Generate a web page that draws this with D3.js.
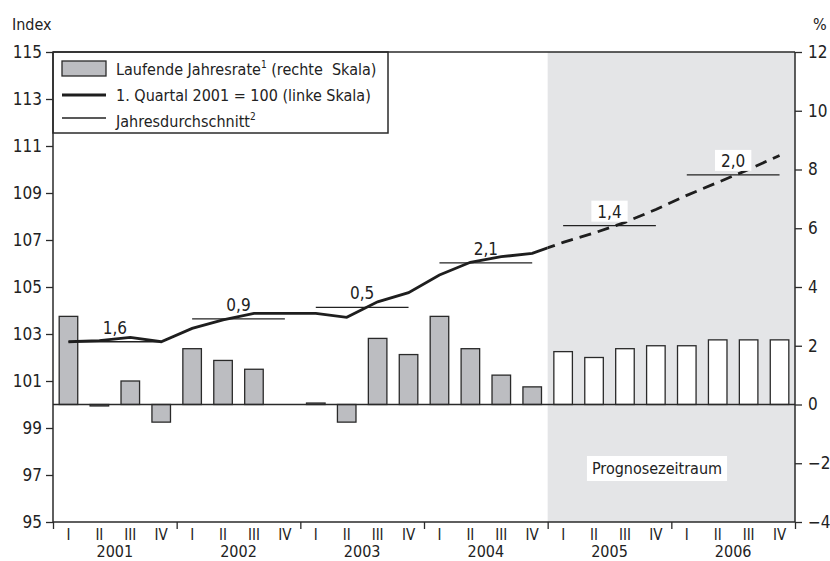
<!DOCTYPE html>
<html>
<head>
<meta charset="utf-8">
<script src="https://cdn.jsdelivr.net/npm/d3@7"></script>
<style>
  body { margin: 0; background: #fff; }
  svg text { font-family: "Liberation Sans Narrow", "DejaVu Sans Condensed", sans-serif; fill: #222; }
</style>
</head>
<body>
<svg id="chart"></svg>
<script>
// quarters 2001 Q1 ... 2006 Q4
let quarterNames = ["I", "II", "III", "IV"]
let years = ["2001", "2002", "2003", "2004", "2005", "2006"]

// Laufende Jahresrate in % (right scale)
let rates = [3.0, -0.05, 0.8, -0.6, 1.9, 1.5, 1.2, 0, 0.05, -0.6, 2.25, 1.7,
             3.0, 1.9, 1.0, 0.6, 1.8, 1.6, 1.9, 2.0, 2.0, 2.2, 2.2, 2.2]

// Index, 1. Quartal 2001 = 100 (left scale)
let indexValues = [102.67, 102.72, 102.86, 102.67, 103.24, 103.6, 103.88, 103.88,
                   103.88, 103.71, 104.37, 104.76, 105.51, 106.05, 106.29, 106.43,
                   106.9, 107.3, 107.75, 108.3, 108.9, 109.45, 110.0, 110.6]

// Jahresdurchschnitt (left scale) and label
let yearAvg = [102.67, 103.64, 104.13, 106.03, 107.61, 109.77]
let yearAvgLabels = ["1,6", "0,9", "0,5", "2,1", "1,4", "2,0"]

let leftTicks = [95, 97, 99, 101, 103, 105, 107, 109, 111, 113, 115]
let rightTicks = [-4, -2, 0, 2, 4, 6, 8, 10, 12]

let forecastStart = 16

let width = 830
let height = 561
let plotLeft = 53
let plotRight = 795
let plotTop = 52
let plotBottom = 522

let svg = d3.select("#chart").attr("width", width).attr("height", height)

let idx = d3.range(rates.length)

let xScale = d3.scaleBand()
    .domain(idx)
    .range([plotLeft, plotRight])
    .paddingInner(0.4)
    .paddingOuter(0.2)

let xYear = d3.scaleLinear().domain([0, rates.length]).range([plotLeft, plotRight])

let yLeft = d3.scaleLinear().domain([95, 115]).range([plotBottom, plotTop])
let yRight = d3.scaleLinear().domain([-4, 12]).range([plotBottom, plotTop])

let cx = (i) => xScale(i) + xScale.bandwidth() / 2
let splitX = xYear(forecastStart)

// forecast shading
svg.append("rect")
    .attr("x", splitX)
    .attr("y", plotTop)
    .attr("width", plotRight - splitX)
    .attr("height", plotBottom - plotTop)
    .attr("fill", "#e4e5e7")

// bars
svg.selectAll(".bar")
    .data(rates)
    .enter()
    .append("rect")
    .attr("class", "bar")
    .attr("x", (d, i) => xScale(i))
    .attr("width", xScale.bandwidth())
    .attr("y", (d) => yRight(Math.max(0, d)))
    .attr("height", (d) => Math.abs(yRight(d) - yRight(0)))
    .attr("fill", (d, i) => i < forecastStart ? "#bcbdc1" : "#ffffff")
    .attr("stroke", "#2a2a2a")
    .attr("stroke-width", 1.3)

// zero line (right scale)
svg.append("line")
    .attr("x1", plotLeft).attr("x2", plotRight)
    .attr("y1", yRight(0)).attr("y2", yRight(0))
    .attr("stroke", "#2a2a2a")
    .attr("stroke-width", 1.5)

// year averages
svg.selectAll(".avg")
    .data(yearAvg)
    .enter()
    .append("line")
    .attr("class", "avg")
    .attr("x1", (d, i) => cx(i * 4))
    .attr("x2", (d, i) => cx(i * 4 + 3))
    .attr("y1", (d) => yLeft(d))
    .attr("y2", (d) => yLeft(d))
    .attr("stroke", "#222")
    .attr("stroke-width", 1.3)

// index line: solid before forecast, dashed after
let defs = svg.append("defs")
defs.append("clipPath").attr("id", "clipPast")
    .append("rect").attr("x", 0).attr("y", 0).attr("width", splitX).attr("height", height)
defs.append("clipPath").attr("id", "clipFuture")
    .append("rect").attr("x", splitX).attr("y", 0).attr("width", width - splitX).attr("height", height)

let line = d3.line()
    .x((d, i) => cx(i))
    .y((d) => yLeft(d))

svg.append("path")
    .datum(indexValues)
    .attr("d", line)
    .attr("fill", "none")
    .attr("stroke", "#1e1e1e")
    .attr("stroke-width", 2.8)
    .attr("clip-path", "url(#clipPast)")

svg.append("path")
    .datum(indexValues)
    .attr("d", line)
    .attr("fill", "none")
    .attr("stroke", "#1e1e1e")
    .attr("stroke-width", 2.8)
    .attr("stroke-dasharray", "12,7")
    .attr("clip-path", "url(#clipFuture)")

// average labels
yearAvgLabels.forEach((lab, i) => {
    let x = (cx(i * 4) + cx(i * 4 + 3)) / 2
    let y = yLeft(yearAvg[i]) - 8
    let g = svg.append("g")
    let t = g.append("text")
        .attr("x", x)
        .attr("y", y)
        .attr("text-anchor", "middle")
        .attr("font-size", 17)
        .text(lab)
    if (i * 4 >= forecastStart) {
        let bb = t.node().getBBox()
        g.insert("rect", "text")
            .attr("x", bb.x - 6)
            .attr("y", bb.y - 1)
            .attr("width", bb.width + 12)
            .attr("height", bb.height + 1)
            .attr("fill", "#fff")
    }
})

// Prognosezeitraum label
let pg = svg.append("g")
let pt = pg.append("text")
    .attr("x", 657)
    .attr("y", 474)
    .attr("text-anchor", "middle")
    .attr("font-size", 16)
    .text("Prognosezeitraum")
let pb = pt.node().getBBox()
pg.insert("rect", "text")
    .attr("x", pb.x - 5)
    .attr("y", pb.y - 3)
    .attr("width", pb.width + 10)
    .attr("height", pb.height + 6)
    .attr("fill", "#fff")

// legend
let legend = svg.append("g")
legend.append("rect")
    .attr("x", plotLeft).attr("y", plotTop)
    .attr("width", 388 - plotLeft).attr("height", 133 - plotTop)
    .attr("fill", "#fff")
    .attr("stroke", "#2a2a2a")
    .attr("stroke-width", 1.5)
legend.append("rect")
    .attr("x", 62).attr("y", 61).attr("width", 44).attr("height", 15)
    .attr("fill", "#bcbdc1").attr("stroke", "#2a2a2a").attr("stroke-width", 1.3)
legend.append("line")
    .attr("x1", 62).attr("x2", 106).attr("y1", 95).attr("y2", 95)
    .attr("stroke", "#1e1e1e").attr("stroke-width", 2.8)
legend.append("line")
    .attr("x1", 62).attr("x2", 106).attr("y1", 118).attr("y2", 118)
    .attr("stroke", "#222").attr("stroke-width", 1.3)

let l1 = legend.append("text").attr("x", 116).attr("y", 75).attr("font-size", 16)
l1.append("tspan").text("Laufende Jahresrate")
l1.append("tspan").attr("dy", -7).attr("font-size", 10).text("1")
l1.append("tspan").attr("dy", 7).text(" (rechte  Skala)").attr("xml:space", "preserve")
legend.append("text").attr("x", 116).attr("y", 101).attr("font-size", 16)
    .text("1. Quartal 2001 = 100 (linke Skala)")
let l3 = legend.append("text").attr("x", 116).attr("y", 127).attr("font-size", 16)
l3.append("tspan").text("Jahresdurchschnitt")
l3.append("tspan").attr("dy", -7).attr("font-size", 10).text("2")

// axes
let yAxisLeft = d3.axisLeft(yLeft).tickValues(leftTicks).tickSize(7).tickPadding(4)
let yAxisRight = d3.axisRight(yRight).tickValues(rightTicks).tickSize(7).tickPadding(6)
let xAxis = d3.axisBottom(xYear).tickValues(d3.range(0, rates.length + 1, 4)).tickSize(7).tickFormat("")

let ga = svg.append("g").attr("transform", "translate(" + plotLeft + ",0)").call(yAxisLeft)
let gb = svg.append("g").attr("transform", "translate(" + plotRight + ",0)").call(yAxisRight)
let gc = svg.append("g").attr("transform", "translate(0," + plotBottom + ")").call(xAxis)

;[ga, gb, gc].forEach((g) => {
    g.select(".domain").attr("stroke", "#2a2a2a").attr("stroke-width", 1.5)
    g.selectAll(".tick line").attr("stroke", "#2a2a2a").attr("stroke-width", 1.3)
    g.selectAll(".tick text").attr("font-size", 17).attr("font-family", null).attr("fill", "#222")
})
ga.select(".domain").attr("d", "M0," + plotTop + "V" + plotBottom)
gb.select(".domain").attr("d", "M0," + plotTop + "V" + plotBottom)
gc.select(".domain").attr("d", "M" + plotLeft + ",0H" + plotRight)

// top frame line
svg.append("line")
    .attr("x1", plotLeft).attr("x2", plotRight)
    .attr("y1", plotTop).attr("y2", plotTop)
    .attr("stroke", "#2a2a2a").attr("stroke-width", 1.5)

// quarter and year labels
svg.selectAll(".qlab")
    .data(idx)
    .enter()
    .append("text")
    .attr("class", "qlab")
    .attr("x", (i) => cx(i))
    .attr("y", 540)
    .attr("text-anchor", "middle")
    .attr("font-size", 15)
    .text((i) => quarterNames[i % 4])

svg.selectAll(".ylab")
    .data(years)
    .enter()
    .append("text")
    .attr("class", "ylab")
    .attr("x", (d, i) => xYear(i * 4 + 2))
    .attr("y", 557)
    .attr("text-anchor", "middle")
    .attr("font-size", 16)
    .text((d) => d)

// axis titles
svg.append("text").attr("x", 12).attr("y", 30).attr("font-size", 16).text("Index")
svg.append("text").attr("x", 813).attr("y", 30).attr("font-size", 16).text("%")
</script>
</body>
</html>
